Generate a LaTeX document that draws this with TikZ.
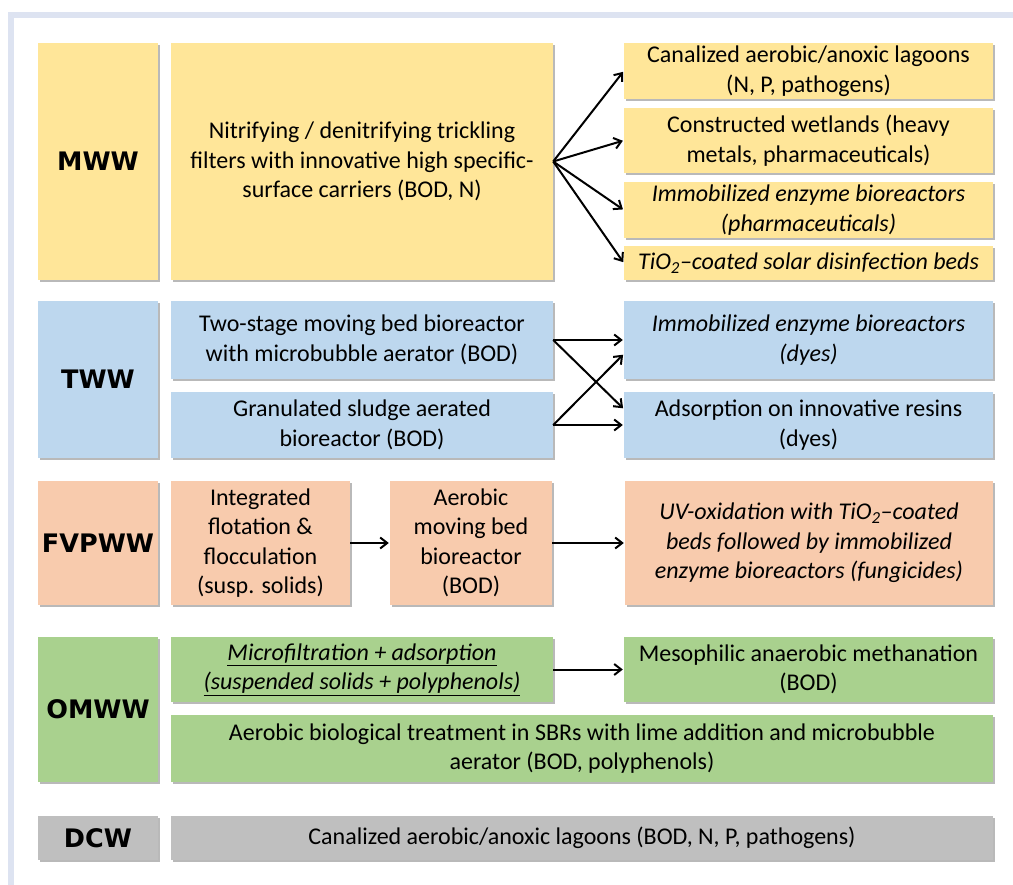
\documentclass[tikz,border=0pt]{standalone}
\usepackage{fontspec}
\setmainfont{Carlito}
\newfontfamily\lblfont{DejaVu Sans}
\usetikzlibrary{arrows.meta,shadows}

\definecolor{mwwfill}{HTML}{FFE699}
\definecolor{twwfill}{HTML}{BDD7EE}
\definecolor{fvpfill}{HTML}{F8CBAD}
\definecolor{omwfill}{HTML}{A9D18E}
\definecolor{dcwfill}{HTML}{BFBFBF}
\definecolor{framecol}{HTML}{DDE3F1}

\begin{document}
\begin{tikzpicture}[x=1pt,y=-1pt,
    >={Straight Barb[length=7pt,width=11pt]},
    box/.style={fill=#1,align=center,inner sep=2pt,
        font=\fontsize{24}{29.5}\selectfont,
        drop shadow={shadow xshift=2pt,shadow yshift=-2pt,opacity=.5,fill=black!55}},
    lbl/.style={box=#1,font=\lblfont\bfseries\fontsize{25.5}{30}\selectfont},
    sz/.style 2 args={minimum width=#1pt,minimum height=#2pt},
    flow/.style={->,line width=2pt,shorten >=1pt}
    ]

  \useasboundingbox (0,0) rectangle (1013,885);
  % frame
  \fill[framecol] (8,12) rectangle (1013,18);
  \fill[framecol] (8,12) rectangle (14,885);

  % MWW
  \node[lbl=mwwfill,sz={120}{237}]  (mww)     at (98,161.5)  {MWW};
  \node[box=mwwfill,sz={382}{237}]  (mwwmain) at (362,161.5)
      {Nitrifying / denitrifying trickling\\filters with innovative high specific-\\surface carriers (BOD, N)};
  \node[box=mwwfill,sz={369}{56}]   (mwwa)    at (808.5,71)
      {Canalized aerobic/anoxic lagoons\\(N, P, pathogens)};
  \node[box=mwwfill,sz={369}{65}]   (mwwb)    at (808.5,140.5)
      {Constructed wetlands (heavy\\metals, pharmaceuticals)};
  \node[box=mwwfill,sz={369}{56}]   (mwwc)    at (808.5,210)
      {\itshape Immobilized enzyme bioreactors\\\itshape (pharmaceuticals)};
  \node[box=mwwfill,sz={369}{34}]   (mwwd)    at (808.5,263)
      {\itshape TiO\textsubscript{2}–coated solar disinfection beds};

  % TWW
  \node[lbl=twwfill,sz={120}{157}]  (tww)  at (98,379.5) {TWW};
  \node[box=twwfill,sz={382}{78}]   (twwa) at (362,340)
      {Two-stage moving bed bioreactor\\with microbubble aerator (BOD)};
  \node[box=twwfill,sz={382}{66}]   (twwb) at (362,425)
      {Granulated sludge aerated\\bioreactor (BOD)};
  \node[box=twwfill,sz={369}{78}]   (twwc) at (808.5,340)
      {\itshape Immobilized enzyme bioreactors\\\itshape (dyes)};
  \node[box=twwfill,sz={369}{66}]   (twwd) at (808.5,425)
      {Adsorption on innovative resins\\(dyes)};

  % FVPWW
  \node[lbl=fvpfill,sz={120}{124}]  (fvp)  at (98,543) {FVPWW};
  \node[box=fvpfill,sz={179}{124}]  (fvpa) at (260.5,543)
      {Integrated\\flotation \&\\flocculation\\(susp. solids)};
  \node[box=fvpfill,sz={162}{124}]  (fvpb) at (471,543)
      {Aerobic\\moving bed\\bioreactor\\(BOD)};
  \node[box=fvpfill,sz={368}{124}]  (fvpc) at (809,543)
      {\itshape UV-oxidation with TiO\textsubscript{2}–coated\\\itshape beds followed by immobilized\\\itshape enzyme bioreactors (fungicides)};

  % OMWW
  \node[lbl=omwfill,sz={120}{145}]  (omw)  at (98,709.5) {OMWW};
  \node[box=omwfill,sz={382}{65}]   (omwa) at (362,669.5)
      {\itshape\underline{Microfiltration + adsorption}\\\itshape\underline{(suspended solids + polyphenols)}};
  \node[box=omwfill,sz={369}{65}]   (omwb) at (808.5,669.5)
      {Mesophilic anaerobic methanation\\(BOD)};
  \node[box=omwfill,sz={822}{67}]   (omwc) at (582,748.5)
      {Aerobic biological treatment in SBRs with lime addition and microbubble\\aerator (BOD, polyphenols)};

  % DCW
  \node[lbl=dcwfill,sz={120}{44}]   (dcw)  at (98,838) {DCW};
  \node[box=dcwfill,sz={822}{44}]   (dcwa) at (582,838)
      {Canalized aerobic/anoxic lagoons (BOD, N, P, pathogens)};

  % connectors
  \coordinate (fan) at (mwwmain.east);
  \draw[flow] (fan) -- (mwwa.west);
  \draw[flow] (fan) -- (mwwb.west);
  \draw[flow] (fan) -- (mwwc.west);
  \draw[flow] (fan) -- (mwwd.west);

  \draw[flow] (twwa.east) -- (twwc.west);
  \draw[flow] (twwa.east) -- ([yshift=16pt]twwd.west);
  \draw[flow] (twwb.east) -- (twwd.west);
  \draw[flow] (twwb.east) -- ([yshift=-14pt]twwc.west);

  \draw[flow] (fvpa) -- (fvpb);
  \draw[flow] (fvpb) -- (fvpc);

  \draw[flow] (omwa) -- (omwb);

\end{tikzpicture}
\end{document}
